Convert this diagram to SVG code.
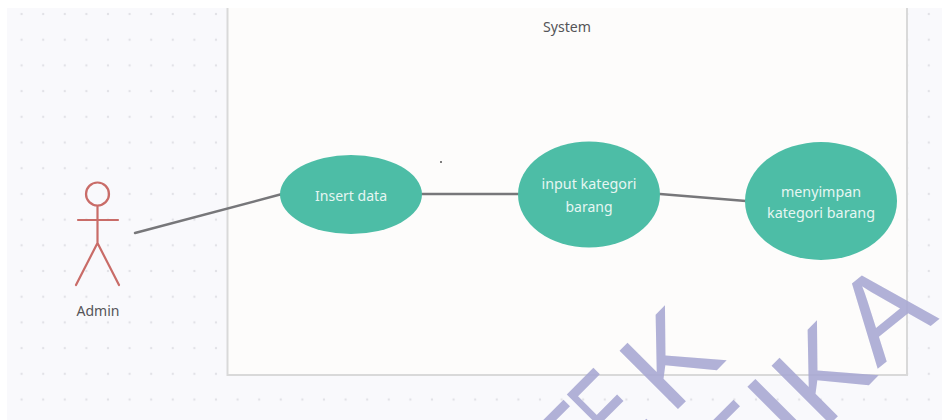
<svg xmlns="http://www.w3.org/2000/svg" width="942" height="420" viewBox="0 0 942 420">
  <style>
    text { font-family: "Noto Sans", "Open Sans", sans-serif; }
    .usecase { fill: #4dbda6; }
    .uc-label { fill: #e6f6f2; font-size: 15px; text-anchor: middle; }
    .plain-label { fill: #555558; font-size: 15px; text-anchor: middle; }
    .conn { stroke: #77777a; stroke-width: 2.4; fill: none; stroke-linecap: round; }
    .actor { stroke: #c96c68; stroke-width: 2.2; fill: none; stroke-linecap: round; }
    .wm { font-family: "Liberation Sans", Arial, sans-serif; font-size: 120px; fill: #a6a6d2; fill-opacity: .88; }
  </style>
  <defs>
    <pattern id="dots" patternUnits="userSpaceOnUse" x="0" y="-11.7" width="21.6" height="25.7">
      <circle cx="21.6" cy="25.7" r="1.2" fill="#e2e2e7"/>
      <circle cx="0" cy="25.7" r="1.2" fill="#e2e2e7"/>
      <circle cx="21.6" cy="0" r="1.2" fill="#e2e2e7"/>
      <circle cx="0" cy="0" r="1.2" fill="#e2e2e7"/>
    </pattern>
  </defs>
  <rect width="942" height="420" fill="#ffffff"/>
  <rect x="7" y="8" width="935" height="412" fill="#f9f9fc"/>
  <rect x="7" y="8" width="935" height="412" fill="url(#dots)"/>
  <g id="system">
    <path d="M227.500 8V375H907V8" fill="#fdfcfb" stroke="#d9d9d9" stroke-width="2"/>
    <text class="plain-label" x="567" y="32" textLength="48" lengthAdjust="spacingAndGlyphs">System</text>
  </g>
  <g id="connectors">
    <line class="conn" x1="135" y1="233" x2="282" y2="194"/>
    <line class="conn" x1="422" y1="194" x2="518" y2="194"/>
    <line class="conn" x1="660" y1="194" x2="746" y2="201"/>
  </g>
  <g id="actor-admin">
    <circle class="actor" cx="97.500" cy="194" r="11.500"/>
    <path class="actor" d="M97.500 206V243M78 220H118M97.500 243L76 285M97.500 243L119 285"/>
    <text class="plain-label" x="98" y="315.500" textLength="43" lengthAdjust="spacingAndGlyphs">Admin</text>
  </g>
  <g id="uc-insert">
    <ellipse class="usecase" cx="351" cy="194.500" rx="71" ry="39.500"/>
    <text class="uc-label" x="351" y="200.500" textLength="72" lengthAdjust="spacingAndGlyphs">Insert data</text>
  </g>
  <g id="uc-input">
    <ellipse class="usecase" cx="589" cy="194.500" rx="71" ry="53"/>
    <text class="uc-label" x="589" y="189" textLength="95" lengthAdjust="spacingAndGlyphs">input kategori</text>
    <text class="uc-label" x="589" y="212" textLength="47" lengthAdjust="spacingAndGlyphs">barang</text>
  </g>
  <g id="uc-simpan">
    <ellipse class="usecase" cx="821" cy="201" rx="76" ry="59"/>
    <text class="uc-label" x="821" y="196.500" textLength="80" lengthAdjust="spacingAndGlyphs">menyimpan</text>
    <text class="uc-label" x="821" y="218" textLength="108" lengthAdjust="spacingAndGlyphs">kategori barang</text>
  </g>
  <circle cx="441" cy="162" r="1" fill="#555"/>
  <g id="watermark">
    <text class="wm" transform="translate(572 508) rotate(-45)">T</text>
    <text class="wm" transform="translate(621 457) rotate(-45) scale(.6 1)">E</text>
    <text class="wm" transform="translate(671 416) rotate(-45)">K</text>
    <text class="wm" transform="translate(742 508) rotate(-45)">T</text>
    <text class="wm" transform="translate(798 453) rotate(-45)">I</text>
    <text class="wm" transform="translate(823 431) rotate(-45)">K</text>
    <text class="wm" transform="translate(877.500 369) rotate(-39)">A</text>
  </g>
</svg>
